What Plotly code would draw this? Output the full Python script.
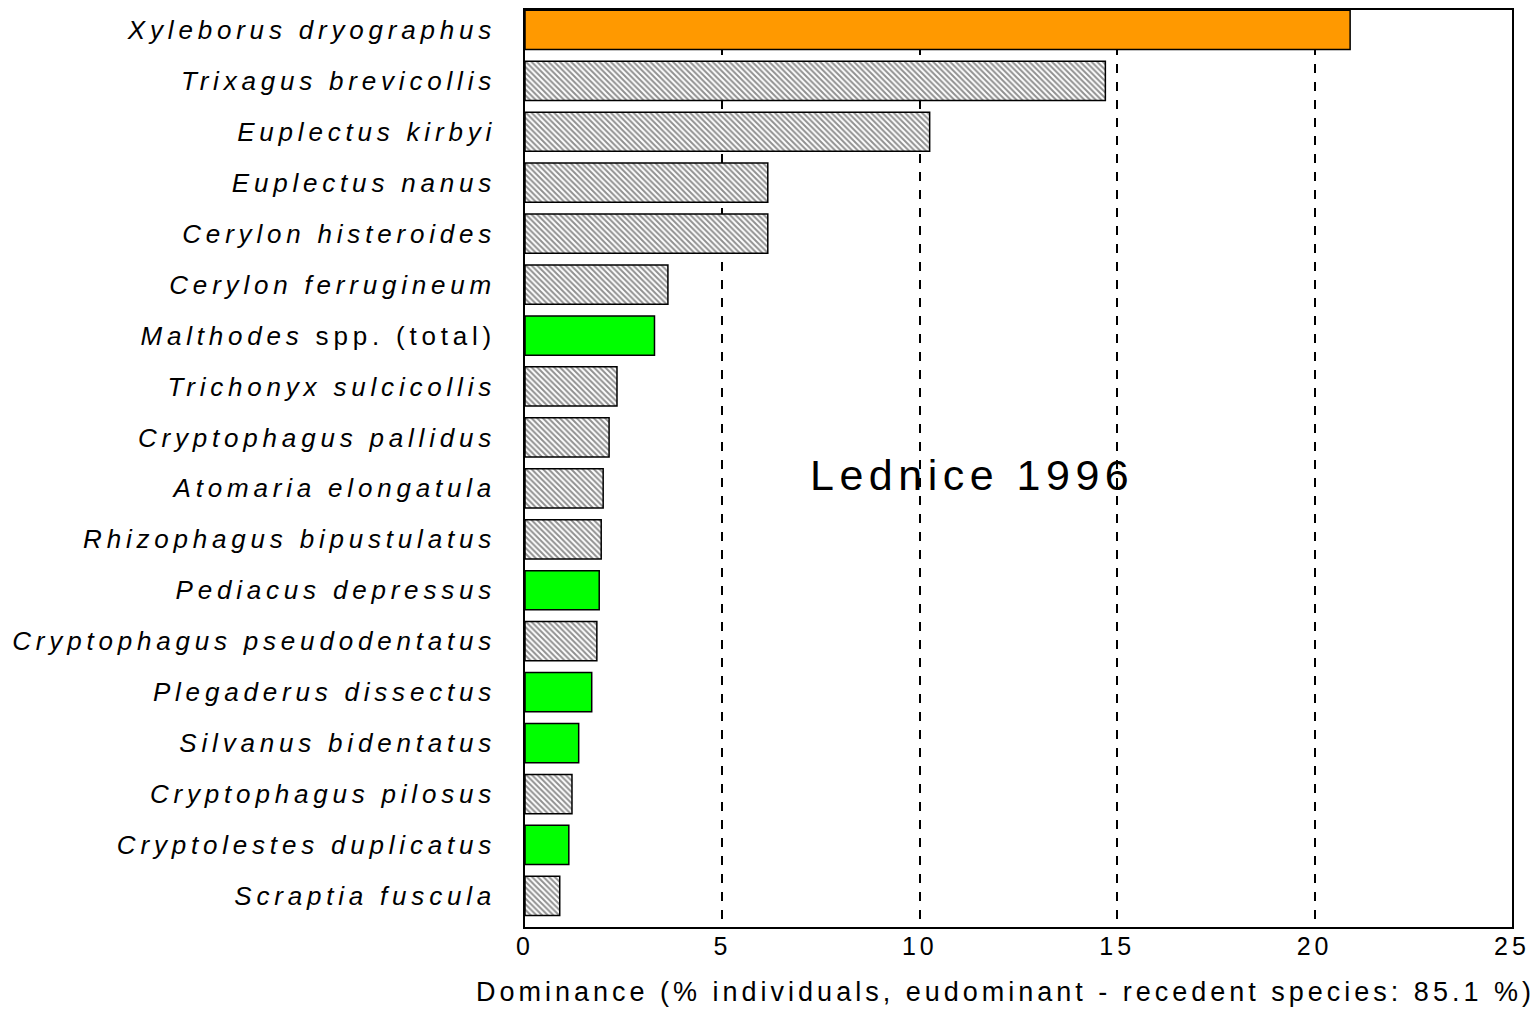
import plotly.graph_objects as go

# ---- data ----
species = [
    "Xyleborus dryographus", "Trixagus brevicollis", "Euplectus kirbyi",
    "Euplectus nanus", "Cerylon histeroides", "Cerylon ferrugineum",
    "Malthodes", "Trichonyx sulcicollis", "Cryptophagus pallidus",
    "Atomaria elongatula", "Rhizophagus bipustulatus", "Pediacus depressus",
    "Cryptophagus pseudodentatus", "Plegaderus dissectus", "Silvanus bidentatus",
    "Cryptophagus pilosus", "Cryptolestes duplicatus", "Scraptia fuscula",
]
label_suffix = ["", "", "", "", "", "", " spp. (total)", "", "", "", "", "", "", "", "", "", "", ""]
dominance = [20.9, 14.7, 10.25, 6.15, 6.15, 3.62, 3.28, 2.33, 2.13, 1.98,
             1.93, 1.88, 1.82, 1.69, 1.36, 1.19, 1.11, 0.88]
group = ["top", "hatch", "hatch", "hatch", "hatch", "hatch", "green", "hatch",
         "hatch", "hatch", "hatch", "green", "hatch", "green", "green", "hatch",
         "green", "hatch"]
x_ticks = [0, 5, 10, 15, 20, 25]
x_title = "Dominance (% individuals, eudominant - recedent species: 85.1 %)"
chart_label = "Lednice 1996"

FONT = "Liberation Sans, Arial, sans-serif"

ticktext = [f"<i>{s}</i>{suf}" for s, suf in zip(species, label_suffix)]

fig = go.Figure()

styles = {
    "top": dict(color="#FF9900", pattern=dict(shape="")),
    "green": dict(color="#00FF00", pattern=dict(shape="")),
    "hatch": dict(color="#FFFFFF",
                  pattern=dict(shape="\\", fgcolor="#222222", bgcolor="#FFFFFF",
                               size=4, solidity=0.5, fillmode="overlay")),
}

for g in ["hatch", "green", "top"]:
    ys = [s for s, gg in zip(species, group) if gg == g]
    xs = [v for v, gg in zip(dominance, group) if gg == g]
    st = styles[g]
    fig.add_trace(go.Bar(
        x=xs, y=ys, orientation="h",
        marker=dict(color=st["color"], pattern=st["pattern"],
                    line=dict(color="black", width=1.5)),
        width=0.77, showlegend=False, hoverinfo="x+y",
    ))

fig.update_layout(
    width=1534, height=1009,
    margin=dict(l=525, r=19, t=8, b=82),
    paper_bgcolor="white", plot_bgcolor="white",
    barmode="overlay",
    font=dict(family=FONT, color="black"),
    annotations=[
        dict(text=chart_label, xref="paper", yref="paper",
             x=0.4525, y=0.493, showarrow=False,
             font=dict(family=FONT, size=43, color="black")),
        dict(text=x_title, xref="paper", yref="paper",
             x=0.487, y=-0.0707, xanchor="center", yanchor="middle",
             showarrow=False, font=dict(family=FONT, size=27, color="black")),
    ],
)

fig.update_xaxes(
    range=[0, 25], tickvals=x_ticks, ticktext=[str(t) for t in x_ticks],
    showgrid=True, gridcolor="black", griddash="dash", gridwidth=1.5,
    showline=True, linecolor="black", linewidth=1.5, mirror=True,
    zeroline=False, ticks="", ticklabelstandoff=-4,
    tickfont=dict(family=FONT, size=25, color="black"),
)
fig.update_yaxes(
    categoryorder="array", categoryarray=species,
    tickvals=species, ticktext=ticktext,
    range=[17.61, -0.39],
    showgrid=False, showline=True, linecolor="black", linewidth=1.5, mirror=True,
    ticks="", ticklabelstandoff=22,
    tickfont=dict(family=FONT, size=26, color="black"),
)

post = """
var s=document.createElement('style');
s.textContent='html,body{margin:0;padding:0}.ytick text{letter-spacing:4.8px}.xtick text{letter-spacing:4px}.annotation-text{letter-spacing:4px}.annotation[data-index="0"] .annotation-text{letter-spacing:5.5px}';
document.head.appendChild(s);
"""
fig.write_html("out.html", post_script=post, config={"displayModeBar": False})
